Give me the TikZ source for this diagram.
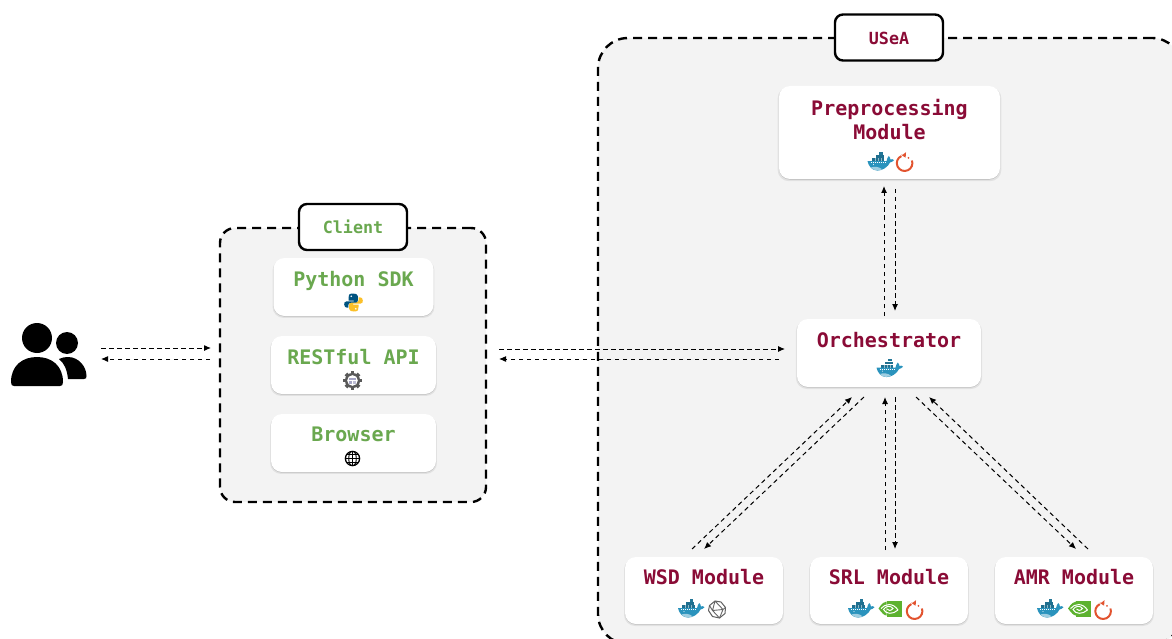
\documentclass[tikz,border=0pt]{standalone}
\usepackage{fontspec}
\setmonofont{DejaVu Sans Mono}
\usetikzlibrary{arrows.meta,calc,shadows}
\definecolor{crim}{HTML}{8A0B36}
\definecolor{leaf}{HTML}{6AA84F}
\definecolor{panel}{HTML}{F3F3F3}
\definecolor{whale}{HTML}{2A93BD}
\definecolor{whaled}{HTML}{1F6F8F}
\definecolor{torch}{HTML}{E2532F}
\definecolor{nvg}{HTML}{5DB22F}
\newcommand{\lift}[2]{\smash{\raisebox{#1}{#2}}}
\tikzset{
  x=1pt,y=-1pt,
  panelbox/.style={draw=black,line width=2.4pt,fill=panel,dash pattern=on 9pt off 6pt,inner sep=0pt,outer sep=0pt},
  tagbox/.style={draw=black,line width=2.4pt,fill=white,rounded corners=8pt,inner sep=0pt,outer sep=0pt,
    minimum width=108pt,minimum height=46pt,font=\ttfamily\bfseries\fontsize{16.7}{20}\selectfont},
  softbox/.style={fill=white,rounded corners=11pt,inner sep=0pt,outer sep=0pt,
    general shadow={shadow yshift=-1.6pt,fill=black,opacity=.07,shadow scale=1.012},
    general shadow={shadow yshift=-.8pt,fill=black,opacity=.12},
    font=\ttfamily\bfseries\fontsize{20}{24}\selectfont},
  usebox/.style={softbox,text=crim},
  clibox/.style={softbox,text=leaf},
  flow/.style={draw=black,line width=1pt,dash pattern=on 4.5pt off 3.5pt,
    -{Latex[length=7pt,width=6pt]}},
  dockerico/.pic={\begin{scope}[y=1pt]
    \fill[whaled] (-9,1) rectangle (3.8,3.8);
    \fill[whaled] (-5,4.2) rectangle (3.2,7);
    \fill[whale!80!black] (-1.5,7.4) rectangle (2.4,9.8);
    \fill[whale] (-13,.8) -- (6,.8) .. controls (6.5,3) and (7.2,5) .. (8.2,6)
      .. controls (9.6,5) and (10,3.4) .. (9.8,2.6) .. controls (11.2,3.2) and (12.6,2.8) .. (13.5,1.8)
      .. controls (12.2,.4) and (10.8,-.4) .. (9.6,-.4) .. controls (7.4,-5) and (2,-8.6) .. (-3,-8.6)
      .. controls (-8.5,-8.6) and (-12,-4) .. (-13,.8) -- cycle;
    \fill[whale!45!white] (-9.5,-5.4) .. controls (-6,-4.4) and (-2,-4.4) .. (1.5,-7.2) .. controls (-1,-9) and (-7,-9) .. (-9.5,-5.4) -- cycle;
    \draw[white,line width=.5pt,dash pattern=on 1pt off 1pt] (-10,-.5) -- (6,-.5);
    \foreach \cx in {-5.5,-2.5,.5} {\draw[whaled!50!white,line width=.35pt] (\cx,1) -- (\cx,3.8);}
    \fill[white] (-7,-2.6) circle (.55);
  \end{scope}},
  torchico/.pic={\begin{scope}[y=1pt]
    \draw[torch,line width=2pt] (-3.7,5.4) arc[start angle=115,end angle=380,radius=7.8];
    \fill[torch] (1,9.3) -- (.6,3.8) -- (-4,6.7) -- (-2,7) -- cycle;
    \fill[torch] (3.4,3.6) circle (1);
  \end{scope}},
  nvico/.pic={\begin{scope}[y=1pt]
    \fill[nvg] (-3.5,-8) rectangle (11.5,8);
    \fill[nvg] (-11.5,.5) .. controls (-8,5.5) and (-6,7.5) .. (-3.5,7.5) -- (-3.5,-6.5) .. controls (-6,-6.5) and (-8,-4) .. (-11.5,.5) -- cycle;
    \draw[white,line width=1pt] (-9,.5) .. controls (-5,5.5) and (3,6.5) .. (8,-1);
    \draw[white,line width=1pt] (8,-1) .. controls (3,-5.5) and (-4,-5.5) .. (-6.5,-.5) .. controls (-4,3.5) and (1,3.5) .. (3,.5)
      .. controls (1,-2) and (-2,-2) .. (-3,0);
  \end{scope}},
  polyico/.pic={\begin{scope}[y=1pt,line join=round]
    \draw[black!62,fill=white,line width=1pt] (-2,8.5) -- (4,7.5) -- (8.5,2) -- (8,-4) -- (2.5,-8.5) -- (-4.5,-7) -- (-8.5,-1) -- (-7.5,4) -- cycle;
    \draw[black!60,line width=.9pt] (-2,8.5) -- (-4.5,-1) -- (2.5,-8.5) -- (6,0) -- (-2,8.5) (-4.5,-1) -- (6,0) -- (8.5,2) (-7.5,4) -- (-4.5,-1);
  \end{scope}},
  pyico/.pic={\begin{scope}[y=1pt]
    \fill[yellow!45!orange!85!white] (.3,-9) .. controls (5,-9) and (5,-7.2) .. (5,-4.5) -- (5,-2) -- (-.3,-2) -- (-.3,-1.2) -- (7,-1.2)
       .. controls (9.3,-1.2) and (9.3,1) .. (9.3,2) .. controls (9.3,4) and (8,5.2) .. (6.5,5.2) -- (5.2,5.2) -- (5.2,2.6) .. controls (5.2,1) and (4,.2) .. (2.5,.2)
       -- (-2,.2) .. controls (-3.8,.2) and (-4.3,-1) .. (-4.3,-2) -- (-4.3,-6.5) .. controls (-4.3,-8.2) and (-2,-9) .. (.3,-9) -- cycle;
    \fill[blue!35!cyan!50!black] (-.3,9) .. controls (-5,9) and (-5,7.2) .. (-5,4.5) -- (-5,2) -- (.3,2) -- (.3,1.2) -- (-7,1.2)
       .. controls (-9.3,1.2) and (-9.3,-1) .. (-9.3,-2) .. controls (-9.3,-4) and (-8,-5.2) .. (-6.5,-5.2) -- (-5.2,-5.2) -- (-5.2,-2.6) .. controls (-5.2,-1) and (-4,-.2) .. (-2.5,-.2)
       -- (2,-.2) .. controls (3.8,-.2) and (4.3,1) .. (4.3,2) -- (4.3,6.5) .. controls (4.3,8.2) and (2,9) .. (-.3,9) -- cycle;
    \fill[white] (-2.3,6.3) circle (.9);
    \fill[white] (2.3,-6.3) circle (.9);
  \end{scope}},
  gearico/.pic={\begin{scope}[y=1pt]
    \foreach \a in {0,45,...,315} {\fill[black!65,rotate=\a] (-1.9,5) rectangle (1.9,9.3);}
    \fill[black!65] (0,0) circle (7.6);
    \fill[white] (0,0) circle (5.3);
    \fill[blue!35!black!35] (-3.4,.3) rectangle (3.4,3);
    \fill[blue!35!black!35] (-3.2,-3.4) rectangle (-.5,-.4);
    \fill[blue!35!black!25] (.5,-3.4) rectangle (3.2,-.4);
  \end{scope}},
  globeico/.pic={\begin{scope}[y=1pt]
    \begin{scope}
      \clip (0,0) circle (7.5);
      \fill[white] (0,0) circle (7.5);
      \draw[black,line width=.9pt] (-8,-3.6) -- (8,-3.6) (-8,0) -- (8,0) (-8,3.6) -- (8,3.6) (0,-8) -- (0,8);
      \draw[black,line width=.9pt] (0,0) ellipse[x radius=3.8,y radius=7.5];
    \end{scope}
    \draw[black,line width=1.3pt] (0,0) circle (7.1);
  \end{scope}},
}
\begin{document}
\begin{tikzpicture}
\useasboundingbox (0,0) rectangle (1172,639);
\fill[white] (0,0) rectangle (1172,639);
\clip (0,0) rectangle (1172,639);

% containers
\node[panelbox,rounded corners=15pt,minimum width=266pt,minimum height=274pt] (client) at (353,365) {};
\node[panelbox,rounded corners=30pt,minimum width=584pt,minimum height=606pt] (usea) at (890,341) {};
\node[tagbox,text=leaf] (clienttag) at (353,227) {\lift{-6.5pt}{Client}};
\node[tagbox,text=crim] (useatag) at (889,37.5) {\lift{-7pt}{USeA}};

% client boxes
\node[clibox,minimum width=160pt,minimum height=58pt] (py) at (353.5,287) {\lift{.5pt}{Python SDK}};
\node[clibox,minimum width=165pt,minimum height=58pt] (rest) at (353.5,365) {\lift{1pt}{RESTful API}};
\node[clibox,minimum width=165pt,minimum height=58pt] (brow) at (353.5,443) {\lift{1.4pt}{Browser}};

% module boxes
\node[usebox,minimum width=221pt,minimum height=93pt] (pre) at (889.5,132.5)
  {\lift{-7.5pt}{\begin{tabular}[b]{@{}c@{}}Preprocessing\\Module\end{tabular}}};
\node[usebox,minimum width=184pt,minimum height=68pt] (orch) at (889,353) {\lift{5.4pt}{Orchestrator}};
\node[usebox,minimum width=158pt,minimum height=67pt] (wsd) at (704,590.5) {\lift{6.5pt}{WSD Module}};
\node[usebox,minimum width=158pt,minimum height=67pt] (srl) at (889,590.5) {\lift{6.5pt}{SRL Module}};
\node[usebox,minimum width=158pt,minimum height=67pt] (amr) at (1074,590.5) {\lift{6.5pt}{AMR Module}};

% users icon
\node[inner sep=0pt,outer sep=0pt,minimum width=77pt,minimum height=64pt] (users) at (48.5,355) {};
\fill[black] (37,338) circle (15);
\fill[black] (67,343) circle (11);
\fill[black] (11,382) .. controls (11,366) and (22,357) .. (37,357) .. controls (52,357) and (63,366) .. (63,382)
  .. controls (63,385) and (62,386) .. (60,386) -- (14,386) .. controls (12,386) and (11,385) .. (11,382) -- cycle;
\fill[black] (59,359) .. controls (62,357.5) and (65,357) .. (68,357) .. controls (79,357) and (86.5,367) .. (86.5,376)
  .. controls (86.5,378) and (86,379) .. (84,379) -- (68,379) .. controls (67,369) and (64,363) .. (59,359) -- cycle;

% icons
\pic at (880.5,162) {dockerico};
\pic at (905,161.5) {torchico};
\pic at (889.5,368.5) {dockerico};
\pic at (691,609) {dockerico};
\pic at (717,609.5) {polyico};
\pic at (861,609) {dockerico};
\pic at (890,609) {nvico};
\pic at (915,609.5) {torchico};
\pic at (1050,609) {dockerico};
\pic at (1079.5,609) {nvico};
\pic at (1103.5,609.5) {torchico};
\pic at (353.5,302.5) {pyico};
\pic at (352.5,380.5) {gearico};
\pic at (352.5,458.5) {globeico};

% connectors
\draw[flow] ($(users.east)+(14,-7)$) -- ($(client.west)+(-9,-17)$);
\draw[flow] ($(client.west)+(-10,-6)$) -- ($(users.east)+(14,4)$);
\draw[flow] ($(client.east)+(13,-16)$) -- ($(orch.west)+(-12,-4)$);
\draw[flow] ($(orch.west)+(-18,6)$) -- ($(client.east)+(13,-6)$);
\draw[flow] ($(orch.north)+(-5,-3)$) -- ($(pre.south)+(-5.5,7)$);
\draw[flow] ($(pre.south)+(5.5,10)$) -- ($(orch.north)+(6,-8)$);
\draw[flow] ($(wsd.north)+(-12,-8)$) -- ($(orch.south)+(-37,10)$);
\draw[flow] ($(orch.south)+(-25,10)$) -- ($(wsd.north)+(0,-8)$);
\draw[flow] ($(srl.north)+(-4,-7)$) -- ($(orch.south)+(-4,10)$);
\draw[flow] ($(orch.south)+(6,10)$) -- ($(srl.north)+(6,-8)$);
\draw[flow] ($(orch.south)+(27,10)$) -- ($(amr.north)+(2,-8)$);
\draw[flow] ($(amr.north)+(14,-8)$) -- ($(orch.south)+(40,10)$);
\end{tikzpicture}
\end{document}
